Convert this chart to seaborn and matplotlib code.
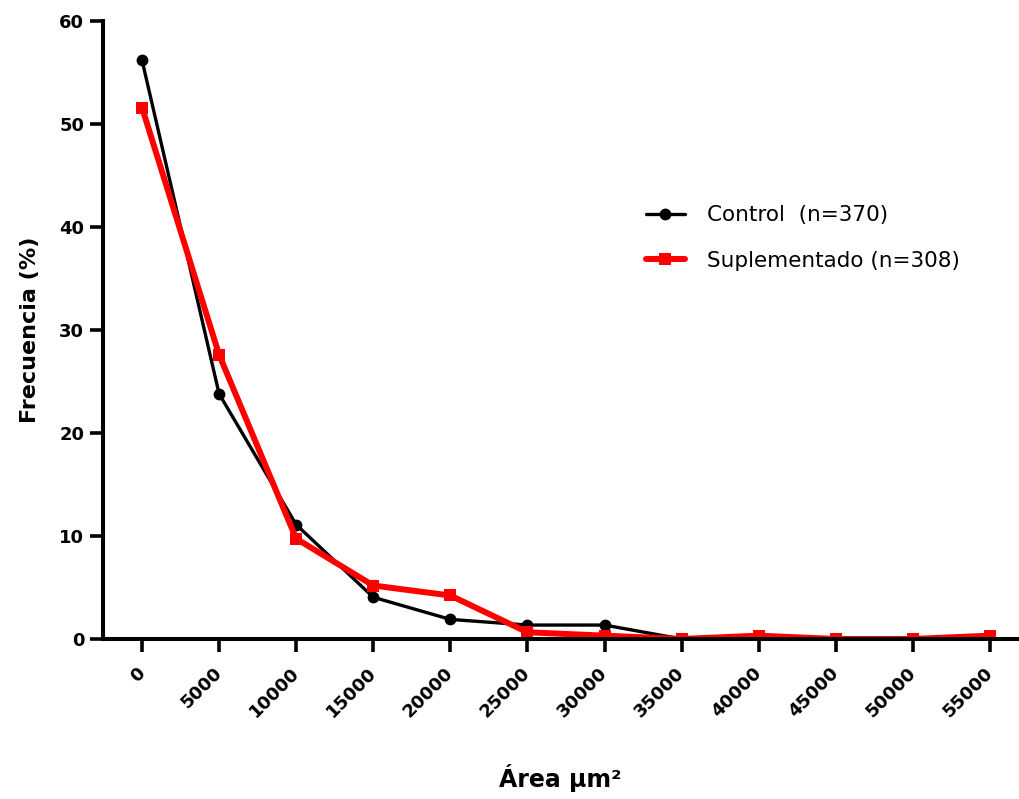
import matplotlib
matplotlib.use("Agg")
import matplotlib.pyplot as plt
import seaborn as sns
import numpy as np

area = [0, 5000, 10000, 15000, 20000, 25000, 30000, 35000, 40000, 45000, 50000, 55000]
control = [56.2, 23.8, 11.1, 4.05, 1.9, 1.35, 1.35, 0.0, 0.27, 0.0, 0.0, 0.0]
suplementado = [51.6, 27.6, 9.74, 5.19, 4.22, 0.65, 0.32, 0.0, 0.32, 0.0, 0.0, 0.32]
label_control = "Control  (n=370)"
label_supl = "Suplementado (n=308)"
yticks = [0, 10, 20, 30, 40, 50, 60]

sns.set_theme(style="ticks")
plt.rcParams['font.family'] = ['DejaVu Sans']
for k in ["text.color", "axes.labelcolor", "xtick.color", "ytick.color", "axes.edgecolor"]:
    plt.rcParams[k] = "black"

fig = plt.figure(figsize=(10.2, 7.99), dpi=100)
ax = fig.add_axes([0.101, 0.2003, 0.897, 0.7734])

sns.lineplot(x=area, y=control, ax=ax, color="black", linewidth=2.4,
             marker="o", markersize=8.5, markeredgewidth=0, label=label_control)
sns.lineplot(x=area, y=suplementado, ax=ax, color="#ff0000", linewidth=4.3,
             marker="s", markersize=8.5, markeredgewidth=0, label=label_supl)

ax.set_xlim(-2530, 56820)
ax.set_ylim(0, 60)
ax.set_xticks(area)
ax.set_xticklabels([str(a) for a in area], rotation=45, ha="right", va="center",
                   rotation_mode="anchor", fontsize=13, fontweight="bold")
ax.set_yticks(yticks)
ax.set_yticklabels([str(v) for v in yticks], fontsize=13, fontweight="bold")
ax.tick_params(axis="both", direction="out", length=9.5, width=2.6, color="black")
ax.tick_params(axis="y", pad=4)
ax.tick_params(axis="x", pad=13)

for side in ["top", "right"]:
    ax.spines[side].set_visible(False)
for side in ["left", "bottom"]:
    ax.spines[side].set_linewidth(2.9)
    ax.spines[side].set_color("black")

ax.set_ylabel("Frecuencia (%)", fontsize=16, fontweight="bold")
ax.set_xlabel("Área µm²", fontsize=17, fontweight="bold")
ax.yaxis.set_label_coords(-0.069, 0.5)
ax.xaxis.set_label_coords(0.5, -0.203)

leg = ax.legend(loc="upper left", bbox_to_anchor=(0.584, 0.716), borderaxespad=0,
                frameon=False, fontsize=15.5, handlelength=1.8, handletextpad=1.05,
                labelspacing=1.2)

fig.savefig("out.png", dpi=100)
